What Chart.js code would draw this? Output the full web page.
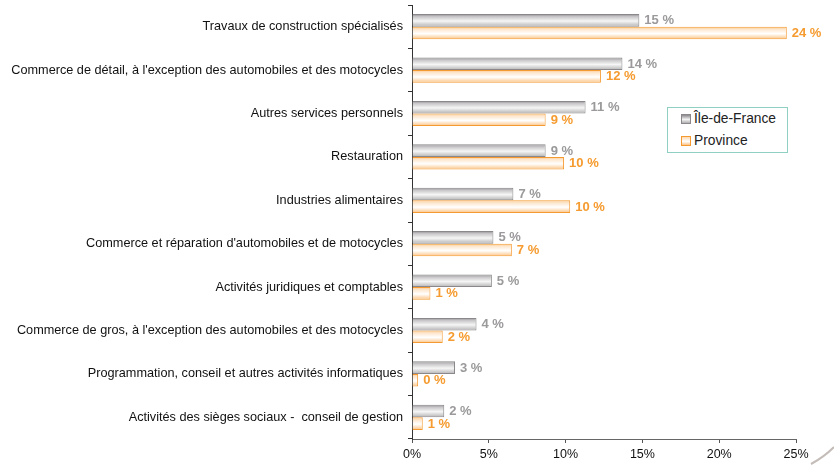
<!DOCTYPE html>
<html>
<head>
<meta charset="utf-8">
<script src="https://cdn.jsdelivr.net/npm/chart.js@4"></script>
<style>
  html, body { margin: 0; padding: 0; background: #fff; }
  #wrap { position: relative; width: 834px; height: 465px; }
  #legend {
    position: absolute; left: 667px; top: 107px; width: 119px; height: 44px;
    border: 1px solid #8fd0c2; background: #fff;
    font: 13.8px "Liberation Sans", Arial, sans-serif; color: #222;
  }
  #legend .item { position: absolute; left: 13px; display: flex; align-items: center; }
  #legend .mark { width: 8px; height: 8px; margin-right: 3px; }
  #deco { position: absolute; left: 0; top: 0; pointer-events: none; }
</style>
</head>
<body>
<div id="wrap">
  <canvas id="chart" width="834" height="465"></canvas>
  <div id="legend">
    <div class="item" style="top:3px"><span class="mark" style="border:1px solid #8a888a;background:linear-gradient(#8a888a,#f4f4f4 55%,#b0aeb0)"></span>Île-de-France</div>
    <div class="item" style="top:25px"><span class="mark" style="border:1px solid #f59a30;background:linear-gradient(#fcd9b0,#fff 55%,#fbc487)"></span>Province</div>
  </div>
  <svg id="deco" width="834" height="465">
    <path d="M811 464 Q824 457 834 447" stroke="#c4bcb8" stroke-width="2" fill="none"/>
  </svg>
</div>
<script>
// ── Data ──
const categories = [
  'Travaux de construction spécialisés',
  "Commerce de détail, à l'exception des automobiles et des motocycles",
  'Autres services personnels',
  'Restauration',
  'Industries alimentaires',
  "Commerce et réparation d'automobiles et de motocycles",
  'Activités juridiques et comptables',
  "Commerce de gros, à l'exception des automobiles et des motocycles",
  'Programmation, conseil et autres activités informatiques',
  'Activités des sièges sociaux -  conseil de gestion'
];
const idfValues      = [14.8, 13.7, 11.3, 8.7, 6.6, 5.3, 5.2, 4.2, 2.8, 2.1];
const provinceValues = [24.4, 12.3, 8.7, 9.9, 10.3, 6.5, 1.2, 2.0, 0.4, 0.7];
const idfLabels      = ['15 %', '14 %', '11 %', '9 %', '7 %', '5 %', '5 %', '4 %', '3 %', '2 %'];
const provinceLabels = ['24 %', '12 %', '9 %', '10 %', '10 %', '7 %', '1 %', '2 %', '0 %', '1 %'];
const xTickLabels    = ['0%', '5%', '10%', '15%', '20%', '25%'];

const FONT = '"Liberation Sans", Arial, sans-serif';

// vertical gradient across a single bar (needs element geometry, so second update)
function barGradient(stops, fallback) {
  return c => {
    const el = c.element;
    if (!el || el.y == null || !isFinite(el.y) || !el.height) return fallback;
    const top = el.y - el.height / 2, bot = el.y + el.height / 2;
    const g = c.chart.ctx.createLinearGradient(0, top, 0, bot);
    stops.forEach(s => g.addColorStop(s[0], s[1]));
    return g;
  };
}

// ── Value labels next to each bar ──
const barLabels = {
  id: 'barLabels',
  afterDatasetsDraw(chart) {
    const ctx = chart.ctx;
    ctx.save();
    ctx.font = 'bold 13px ' + FONT;
    ctx.textBaseline = 'middle';
    ctx.textAlign = 'left';
    chart.data.datasets.forEach((ds, di) => {
      const meta = chart.getDatasetMeta(di);
      ctx.fillStyle = ds.labelColor;
      meta.data.forEach((bar, i) => {
        ctx.fillText(ds.valueLabels[i], bar.x + 5, bar.y + 0.5);
      });
    });
    ctx.restore();
  }
};

const chart = new Chart(document.getElementById('chart'), {
  type: 'bar',
  data: {
    labels: categories,
    datasets: [
      {
        label: 'Île-de-France',
        data: idfValues,
        valueLabels: idfLabels,
        labelColor: '#9b999b',
        backgroundColor: barGradient([[0, '#8f8d8f'], [0.2, '#c8c6c8'], [0.55, '#f6f6f6'], [1, '#b4b2b4']], '#d0cfd0'),
        borderColor: '#8a888a',
        borderWidth: 1,
        borderSkipped: 'left'
      },
      {
        label: 'Province',
        data: provinceValues,
        valueLabels: provinceLabels,
        labelColor: '#f59b2f',
        backgroundColor: barGradient([[0, '#fbc98e'], [0.2, '#fde6cc'], [0.55, '#ffffff'], [1, '#fbc384']], '#fde0c0'),
        borderColor: '#f59a30',
        borderWidth: 1,
        borderSkipped: 'left'
      }
    ]
  },
  options: {
    indexAxis: 'y',
    responsive: false,
    animation: false,
    layout: { padding: { top: 5, right: 38, bottom: 0, left: 0 } },
    datasets: { bar: { categoryPercentage: 0.58, barPercentage: 1 } },
    plugins: { legend: { display: false }, tooltip: { enabled: false } },
    scales: {
      x: {
        min: 0, max: 25,
        ticks: {
          stepSize: 5,
          padding: 4,
          color: '#111',
          font: { family: FONT, size: 12.5 },
          callback: (v, i) => xTickLabels[i]
        },
        grid: { drawOnChartArea: false, tickLength: 4, color: '#555' },
        border: { color: '#666', width: 1 },
        afterFit: s => { s.height = 26; }
      },
      y: {
        ticks: {
          padding: 5,
          color: '#111',
          font: { family: FONT, size: 12.7 }
        },
        grid: { drawOnChartArea: false, tickLength: 4, color: '#333', offset: true },
        border: { color: '#333', width: 1 },
        afterFit: s => { s.width = 412; s.paddingTop = 0; s.paddingBottom = 0; }
      }
    }
  },
  plugins: [barLabels]
});
chart.update('none');
</script>
</body>
</html>
